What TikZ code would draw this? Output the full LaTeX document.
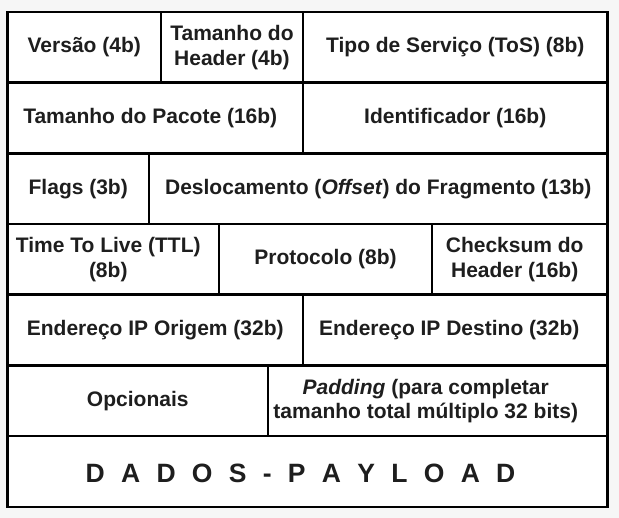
\documentclass[tikz,border=0pt]{standalone}
\usepackage{fontspec}
\setmainfont{Liberation Sans}
\definecolor{txt}{HTML}{1E1E1E}
\definecolor{bg}{HTML}{F6F6F6}
\newcommand{\gp}{\hspace{16.3pt}}
\begin{document}
\begin{tikzpicture}[x=1pt,y=-1pt,
  lbl/.style={inner sep=0pt, align=center, text=txt,
    font=\fontsize{21}{24.5}\selectfont\bfseries},
  cell/.style={lbl, draw=black, line width=2.6pt, fill=white, outer sep=0pt,
    minimum height=70.7pt}]
\useasboundingbox[fill=bg] (0,0) rectangle (619,518);
% row 1
\node[cell, minimum width=153.5pt] (ver) at (84.25,47.35) {Versão (4b)};
\node[cell, minimum width=142pt] (thd) at (232,47.35) {Tamanho do\\Header (4b)};
\node[cell, minimum width=304.5pt] (tos) at (455.25,47.35) {Tipo de Serviço (ToS) (8b)};
% row 2
\node[cell, minimum width=295.5pt] (tpc) at (155.25,118.05) {};
\node[lbl] (tpct) at ([xshift=-5pt]tpc.center) {Tamanho do Pacote (16b)};
\node[cell, minimum width=304.5pt] (idf) at (455.25,118.05) {Identificador (16b)};
% row 3
\node[cell, minimum width=141.5pt] (flg) at (78.25,188.75) {Flags (3b)};
\node[cell, minimum width=458.5pt] (off) at (378.25,188.75) {Deslocamento (\textit{Offset}) do Fragmento (13b)};
% row 4
\node[cell, minimum width=211.5pt] (ttl) at (113.25,259.45) {};
\node[lbl] (ttlt) at ([xshift=-5pt]ttl.center) {Time To Live (TTL)\\(8b)};
\node[cell, minimum width=213pt] (pro) at (325.5,259.45) {Protocolo (8b)};
\node[cell, minimum width=175.5pt] (chk) at (519.75,259.45) {};
\node[lbl] (chkt) at ([xshift=-5pt]chk.center) {Checksum do\\Header (16b)};
% row 5
\node[cell, minimum width=295.5pt] (src) at (155.25,330.15) {Endereço IP Origem (32b)};
\node[cell, minimum width=304.5pt] (dst) at (455.25,330.15) {};
\node[lbl] (dstt) at ([xshift=-6pt]dst.center) {Endereço IP Destino (32b)};
% row 6
\node[cell, minimum width=260.5pt] (opc) at (137.75,400.85) {Opcionais};
\node[cell, minimum width=339.5pt] (pad) at (437.75,400.85) {};
\node[lbl] (padt) at ([xshift=-12pt]pad.center) {\textit{Padding} (para completar\\tamanho total múltiplo 32 bits)};
% row 7
\node[cell, minimum width=600pt] (dad) at (307.5,471.55) {};
\node[lbl, font=\fontsize{26.5}{30}\selectfont\bfseries] (dadt) at ([xshift=-7pt,yshift=-1.5pt]dad.center)
  {D\gp A\gp D\gp O\gp S\gp -\gp P\gp A\gp Y\gp L\gp O\gp A\gp D};
\end{tikzpicture}
\end{document}
